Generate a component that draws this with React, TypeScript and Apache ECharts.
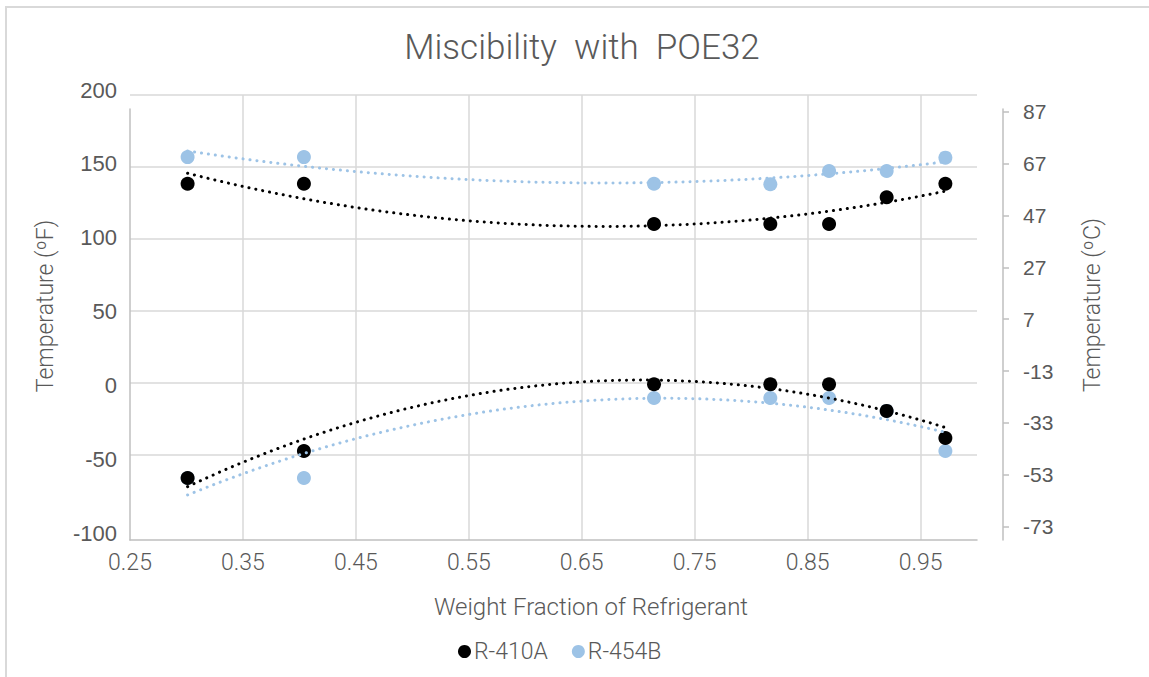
import React, { useEffect, useRef } from "react";
import * as echarts from "echarts";

// Weight fraction of refrigerant (x)
const fractions = [0.301, 0.404, 0.714, 0.817, 0.869, 0.92, 0.972];
// Temperatures in °F
const r410aUpper = [138.4, 138.4, 110.4, 110.4, 110.4, 129.0, 138.4];
const r410aLower = [-66.0, -47.2, -0.9, -0.9, -0.9, -19.4, -38.2];
const r454bUpper = [156.9, 156.9, 138.4, 138.0, 147.2, 147.2, 156.5];
const r454bLower = [-66.0, -66.0, -10.4, -10.4, -10.4, -19.4, -47.2];

const seriesNames = ["R-410A", "R-454B"];
const fAxis = { min: -100, max: 200, interval: 50 };
const cAxis = { min: -73, max: 87, interval: 20 };
const xAxisRange = { min: 0.25, max: 1.0, interval: 0.1 };

const BLACK = "#000000";
const BLUE = "#9dc3e6";
const TEXT = "#595959";
const GRID_COLOR = "#d9d9d9";
const AXIS_COLOR = "#bfbfbf";

function quadFit(xs: number[], ys: number[]) {
  const n = xs.length;
  let sx = 0, sx2 = 0, sx3 = 0, sx4 = 0, sy = 0, sxy = 0, sx2y = 0;
  for (let i = 0; i < n; i++) {
    const x = xs[i], y = ys[i];
    sx += x; sx2 += x * x; sx3 += x * x * x; sx4 += x * x * x * x;
    sy += y; sxy += x * y; sx2y += x * x * y;
  }
  const det3 = (m: number[][]) =>
    m[0][0] * (m[1][1] * m[2][2] - m[1][2] * m[2][1]) -
    m[0][1] * (m[1][0] * m[2][2] - m[1][2] * m[2][0]) +
    m[0][2] * (m[1][0] * m[2][1] - m[1][1] * m[2][0]);
  const A = [[n, sx, sx2], [sx, sx2, sx3], [sx2, sx3, sx4]];
  const B = [sy, sxy, sx2y];
  const D = det3(A);
  const col = (k: number) => A.map((row, i) => row.map((v, j) => (j === k ? B[i] : v)));
  const a = det3(col(0)) / D, b = det3(col(1)) / D, c = det3(col(2)) / D;
  return (x: number) => a + b * x + c * x * x;
}

function trend(xs: number[], ys: number[]) {
  const f = quadFit(xs, ys);
  const x0 = xs[0], x1 = xs[xs.length - 1];
  const pts: number[][] = [];
  const steps = 80;
  for (let i = 0; i <= steps; i++) {
    const x = x0 + ((x1 - x0) * i) / steps;
    pts.push([x, f(x)]);
  }
  return pts;
}

const zip = (xs: number[], ys: number[]) => xs.map((x, i) => [x, ys[i]]);

export default function App() {
  const ref = useRef<HTMLDivElement>(null);
  useEffect(() => {
    document.body.style.margin = "0";
    if (!ref.current) return;
    const chart = echarts.init(ref.current, undefined, { renderer: "svg" });
    const L = 130, R = 172;
    const hiddenX = { show: false, type: "value" as const, min: xAxisRange.min, max: xAxisRange.max };
    const hiddenY = { show: false, type: "value" as const, min: 0, max: 1 };
    const dotted = (color: string) => ({
      color,
      width: 3,
      type: [0.1, 6.9],
      cap: "round",
    });
    const scatter = (name: string, color: string, ys: number[]) => ({
      type: "scatter",
      name,
      xAxisIndex: 0,
      yAxisIndex: 0,
      symbol: "circle",
      symbolSize: 14,
      itemStyle: { color, opacity: 1 },
      data: zip(fractions, ys),
      z: 2,
    });
    const line = (name: string, color: string, ys: number[]) => ({
      type: "line",
      name,
      xAxisIndex: 0,
      yAxisIndex: 0,
      showSymbol: false,
      symbol: "none",
      silent: true,
      lineStyle: dotted(color),
      itemStyle: { color },
      data: trend(fractions, ys),
      z: 3,
    });
    chart.setOption({
      animation: false,
      backgroundColor: "#ffffff",
      grid: [
        { left: L, right: R, top: 95, height: 432 },
        { left: L, right: R, top: 95, height: 445 },
        { left: L, right: R, top: 90, height: 443 },
        { left: L, right: R, top: 109, height: 431 },
        { left: L, right: R, top: 111.7, height: 415 },
      ],
      xAxis: [
        { ...hiddenX, gridIndex: 0 },
        {
          type: "value",
          gridIndex: 1,
          min: xAxisRange.min,
          max: xAxisRange.max,
          interval: xAxisRange.interval,
          axisLine: { show: true, lineStyle: { color: AXIS_COLOR, width: 1.5 } },
          axisTick: { show: false },
          splitLine: { show: true, showMinLine: false, showMaxLine: false, lineStyle: { color: GRID_COLOR, width: 1.5 } },
          axisLabel: {
            showMaxLabel: false,
            color: TEXT,
            fontFamily: "Roboto",
            fontWeight: 300,
            fontSize: 23,
            margin: 11,
          },
        },
        { ...hiddenX, gridIndex: 2 },
        { ...hiddenX, gridIndex: 3 },
        { ...hiddenX, gridIndex: 4 },
      ],
      yAxis: [
        {
          type: "value",
          gridIndex: 0,
          min: fAxis.min,
          max: fAxis.max,
          interval: fAxis.interval,
          axisLine: { show: false },
          axisTick: { show: false },
          axisLabel: { show: false },
          splitLine: { show: true, showMinLine: false, lineStyle: { color: GRID_COLOR, width: 1.5 } },
        },
        { ...hiddenY, gridIndex: 1 },
        {
          type: "value",
          gridIndex: 2,
          min: fAxis.min,
          max: fAxis.max,
          interval: fAxis.interval,
          axisLine: { show: false },
          axisTick: { show: false },
          splitLine: { show: false },
          axisLabel: {
            color: TEXT,
            fontFamily: "Liberation Sans",
            fontSize: 22,
            margin: 13,
          },
        },
        {
          type: "value",
          gridIndex: 3,
          position: "left",
          min: 0,
          max: 1,
          axisLine: { show: true, lineStyle: { color: AXIS_COLOR, width: 1.5 } },
          axisTick: { show: false },
          axisLabel: { show: false },
          splitLine: { show: false },
        },
        {
          type: "value",
          gridIndex: 3,
          position: "right",
          offset: 26,
          min: 0,
          max: 1,
          axisLine: { show: true, lineStyle: { color: AXIS_COLOR, width: 1.5 } },
          axisTick: { show: false },
          axisLabel: { show: false },
          splitLine: { show: false },
        },
        {
          type: "value",
          gridIndex: 4,
          position: "right",
          offset: 26,
          min: cAxis.min,
          max: cAxis.max,
          interval: cAxis.interval,
          axisLine: { show: false },
          axisTick: { show: true, length: 6, lineStyle: { color: AXIS_COLOR, width: 1.5 } },
          splitLine: { show: false },
          axisLabel: {
            color: TEXT,
            fontFamily: "Liberation Sans",
            fontSize: 21,
            margin: 20,
          },
        },
      ],
      legend: {
        data: seriesNames,
        left: 453,
        top: 635,
        icon: "circle",
        itemWidth: 13,
        itemHeight: 13,
        itemGap: 24,
        textStyle: { color: TEXT, fontFamily: "Roboto", fontWeight: 300, fontSize: 23, padding: [0, 0, 0, -2] },
      },
      graphic: [
        {
          type: "rect",
          silent: true,
          shape: { x: 6, y: 7, width: 1170, height: 700 },
          style: { fill: "none", stroke: GRID_COLOR, lineWidth: 2 },
        },
        {
          type: "text",
          x: 582,
          y: 47,
          style: {
            text: "Miscibility  with  POE32",
            fill: TEXT,
            font: "300 35px Roboto",
            align: "center",
            verticalAlign: "middle",
          },
        },
        {
          type: "text",
          x: 591,
          y: 607,
          style: {
            text: "Weight Fraction of Refrigerant",
            fill: TEXT,
            font: "300 24px Roboto",
            align: "center",
            verticalAlign: "middle",
          },
        },
        {
          type: "text",
          x: 45,
          y: 306,
          rotation: Math.PI / 2,
          style: {
            text: "Temperature (ºF)",
            fill: TEXT,
            font: "300 23px Roboto",
            align: "center",
            verticalAlign: "middle",
          },
        },
        {
          type: "text",
          x: 1092,
          y: 305,
          rotation: Math.PI / 2,
          style: {
            text: "Temperature (ºC)",
            fill: TEXT,
            font: "300 23px Roboto",
            align: "center",
            verticalAlign: "middle",
          },
        },
      ],
      series: [
        scatter(seriesNames[1], BLUE, r454bUpper),
        scatter(seriesNames[1], BLUE, r454bLower),
        scatter(seriesNames[0], BLACK, r410aUpper),
        scatter(seriesNames[0], BLACK, r410aLower),
        line("R-454B upper trend", BLUE, r454bUpper),
        line("R-454B lower trend", BLUE, r454bLower),
        line("R-410A upper trend", BLACK, r410aUpper),
        line("R-410A lower trend", BLACK, r410aLower),
      ],
    });
    return () => chart.dispose();
  }, []);
  return <div ref={ref} style={{ width: 1149, height: 677 }} />;
}
